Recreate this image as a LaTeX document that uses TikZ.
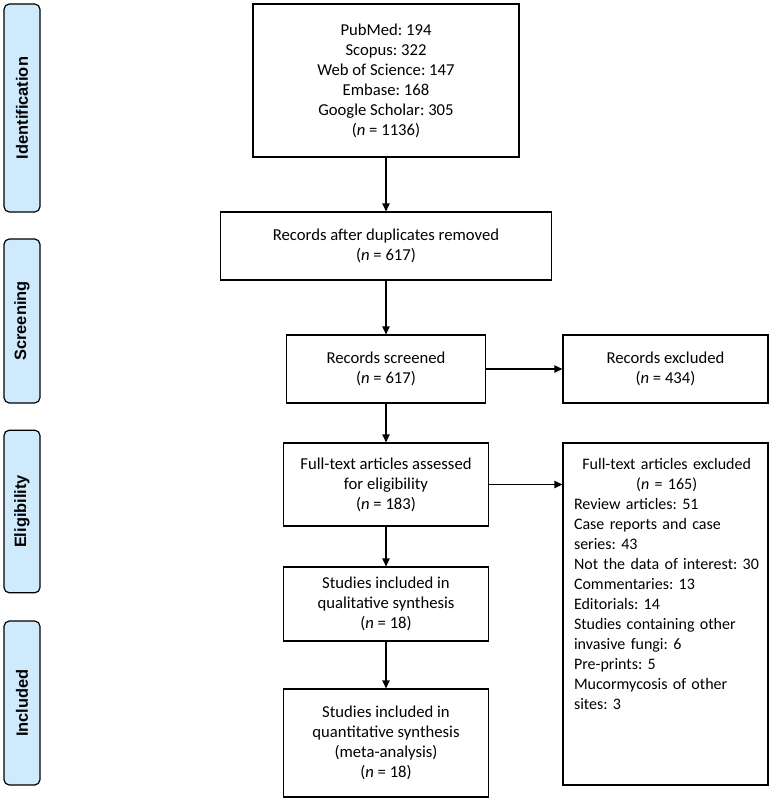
\documentclass[tikz,border=0pt]{standalone}
\usepackage{fontspec}
\setmainfont{Carlito}
\newfontfamily\phasefont{Liberation Sans}
\usetikzlibrary{arrows.meta}
\definecolor{phasefill}{RGB}{207,233,253}
\frenchspacing
\begin{document}
\begin{tikzpicture}[x=0.75pt,y=-0.75pt,
  box/.style={draw,line width=0.9pt,align=center,font=\fontsize{12.5}{15}\selectfont},
  phase/.style={draw,line width=0.9pt,rounded corners=4pt,fill=phasefill,rotate=90,
    minimum height=27pt,font=\phasefont\bfseries\fontsize{12.3}{14}\selectfont},
  arr/.style={-{Triangle[length=6pt,width=5.5pt]},line width=0.9pt}]
  \useasboundingbox (0,0) rectangle (779,802);

  % phases
  \node[phase,minimum width=156pt] (ident) at (22,108) {Identification};
  \node[phase,minimum width=123pt] (screen) at (22,321) {Screening};
  \node[phase,minimum width=122pt] (elig) at (22,511.5) {Eligibility};
  \node[phase,minimum width=123pt] (incl) at (22,703) {Included};

  % main column
  \node[box,minimum width=199.5pt,minimum height=114.75pt] (search) at (386,80.5)
    {PubMed: 194\\Scopus: 322\\Web of Science: 147\\Embase: 168\\Google Scholar: 305\\(\textit{n} = 1136)};
  \node[box,minimum width=248.25pt,minimum height=51pt] (dupl) at (386,246)
    {Records after duplicates removed\\(\textit{n} = 617)};
  \node[box,minimum width=149.25pt,minimum height=51pt] (screened) at (386,369)
    {Records screened\\(\textit{n} = 617)};
  \node[box,minimum width=153.75pt,minimum height=62.25pt] (fulltext) at (386,484.5)
    {Full-text articles assessed\\for eligibility\\(\textit{n} = 183)};
  \node[box,minimum width=153.75pt,minimum height=55.5pt] (qual) at (386,604)
    {Studies included in\\qualitative synthesis\\(\textit{n} = 18)};
  \node[box,minimum width=153.75pt,minimum height=81pt] (quant) at (386,743)
    {Studies included in\\quantitative synthesis\\(meta-analysis)\\(\textit{n} = 18)};

  % exclusions
  \node[box,minimum width=153.75pt,minimum height=51pt] (recexcl) at (665.5,369)
    {Records excluded\\(\textit{n} = 434)};
  \node[box,minimum width=153.75pt,minimum height=256.5pt] (ftexcl) at (665.5,614) {};
  \node[anchor=north west,inner sep=0pt,text width=139pt,font=\fontsize{12}{15}\selectfont]
    (reasons) at ([xshift=8.5pt,yshift=-12pt]ftexcl.north west)
    {\centering Full-text articles excluded\\(\textit{n} = 165)\par
     \raggedright Review articles: 51\\Case reports and case\\series: 43\\\mbox{Not the data of interest: 30}\\
     Commentaries: 13\\Editorials: 14\\Studies containing other\\invasive fungi: 6\\Pre-prints: 5\\
     Mucormycosis of other\\sites: 3\par};

  \foreach \a/\b in {search/dupl,dupl/screened,screened/fulltext,fulltext/qual,qual/quant}
    \draw[arr] (\a) -- (\b);
  \draw[arr] (screened) -- (recexcl);
  \draw[arr] (fulltext.east) -- (fulltext.east -| ftexcl.west);
\end{tikzpicture}
\end{document}
